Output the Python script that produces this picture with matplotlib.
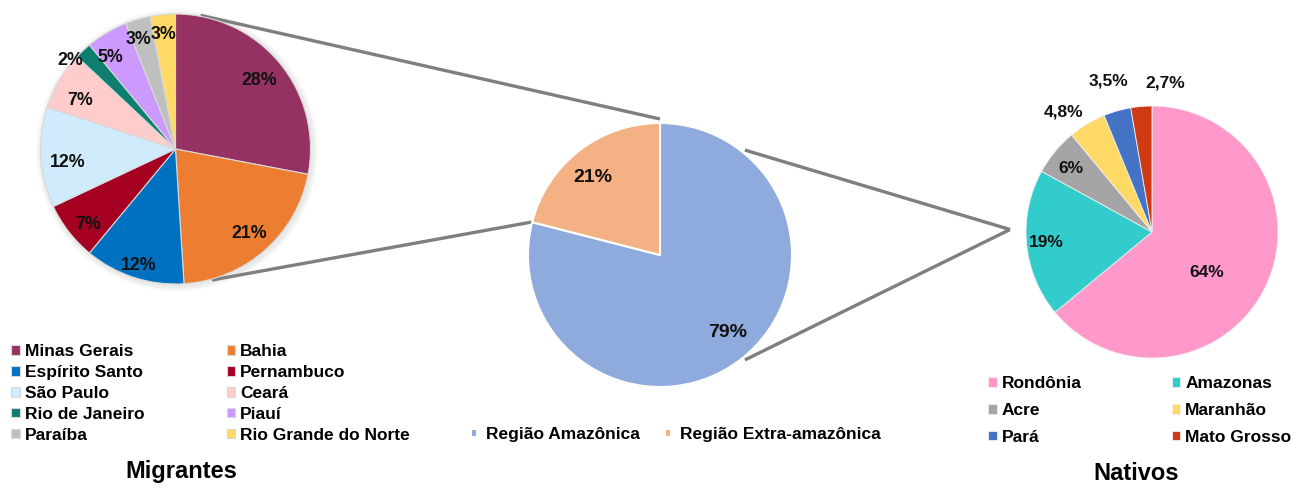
import matplotlib
matplotlib.use("Agg")
import matplotlib.pyplot as plt
from matplotlib.patches import Circle
import numpy as np

plt.rcParams['font.family'] = ['Liberation Sans', 'DejaVu Sans']

W, H = 1298, 488

# Migrantes por estado de origem (%)
migr_states = ["Minas Gerais", "Bahia", "Espírito Santo", "Pernambuco", "São Paulo",
               "Ceará", "Rio de Janeiro", "Piauí", "Paraíba", "Rio Grande do Norte"]
migr_pct = [28, 21, 12, 7, 12, 7, 2, 5, 3, 3]
migr_colors = ["#953163", "#ED7D31", "#0070C0", "#A50021", "#CFEBFC",
               "#FFCCCC", "#0E7E6E", "#CC99FF", "#BFBFBF", "#FFD966"]

# Região de nascimento (%)
region_names = ["Região Amazônica", "Região Extra-amazônica"]
region_pct = [79, 21]
region_colors = ["#8FAADC", "#F4B183"]

# Nativos por estado (%)
nat_states = ["Rondônia", "Amazonas", "Acre", "Maranhão", "Pará", "Mato Grosso"]
nat_pct = [64, 19, 6, 4.8, 3.5, 2.7]
nat_colors = ["#FF99CC", "#33CCCC", "#A5A5A5", "#FFD966", "#4472C4", "#D03A12"]


def fmt(v):
    if float(v).is_integer():
        return f"{int(v)}%"
    return f"{v:.1f}%".replace(".", ",")


def on_circle(center, r, ang):
    # angle measured clockwise from 12 o'clock, in degrees
    a = np.deg2rad(ang)
    return center[0] + r * np.sin(a), center[1] + r * np.cos(a)


fig = plt.figure(figsize=(W / 100, H / 100), dpi=100)
ax = fig.add_axes([0, 0, 1, 1])


def draw_pie(center, radius, values, colors, edge, lw, dists, fs, offsets=None):
    wedges, _ = ax.pie(values, colors=colors, startangle=90, counterclock=False,
                       center=center, radius=radius, frame=True,
                       wedgeprops=dict(edgecolor=edge, linewidth=lw, zorder=2))
    for i, (w, v) in enumerate(zip(wedges, values)):
        ang = np.deg2rad((w.theta1 + w.theta2) / 2)
        d = dists[i] * radius
        dx, dy = offsets[i] if offsets else (0, 0)
        ax.text(center[0] + d * np.cos(ang) + dx, center[1] + d * np.sin(ang) + dy,
                fmt(v), ha="center", va="center", fontsize=fs,
                fontweight="bold", color="#111111", zorder=3)
    return wedges


c_left, r_left = (175.5, 339), 135
c_mid, r_mid = (660, 233), 132
c_right, r_right = (1152, 256), 126

# soft shadow under the left pie
for k in range(1, 7):
    ax.add_patch(Circle((c_left[0] + 1.5, c_left[1] - 1.5), r_left + k,
                        color="#9a9a9a", alpha=0.035, lw=0, zorder=1))

w_migr = draw_pie(c_left, r_left, migr_pct, migr_colors, "#d8d8d8", 0.8,
                  [0.80, 0.83, 0.875, 0.84, 0.80, 0.80, 1.03, 0.85, 0.88, 0.87], 12.8,
                  offsets=[(0, 0), (0, 0), (0, -4), (2, -6), (0, -7), (-2, -6),
                           (-10, -13), (-7, -7), (-4, -5), (-1, -2)])
w_reg = draw_pie(c_mid, r_mid, region_pct, region_colors, "white", 1.5,
                 [0.77, 0.78], 14, offsets=[(5, 3), (-4, -4)])
w_nat = draw_pie(c_right, r_right, nat_pct, nat_colors, "#f0f0f0", 0.6,
                 [0.55, 0.84, 0.83, 1.18, 1.26, 1.19], 12.5,
                 offsets=[(-8, -11), (0, -1), (0, -3), (-12, -7), (0, -2), (26, 0)])

# connectors between the pies
line_kw = dict(color="#7f7f7f", lw=2.4, solid_capstyle="butt", zorder=0)
for a_from, a_to, r_to in [(10.6, 0, 136), (164.4, 284.4, 132.5)]:
    x0, y0 = on_circle(c_left, 136, a_from)
    x1, y1 = on_circle(c_mid, r_to, a_to)
    ax.plot([x0, x1], [y0, y1], **line_kw)
tip = on_circle(c_right, 142, 271)
for a_from in (39, 141):
    x0, y0 = on_circle(c_mid, 135, a_from)
    ax.plot([x0, tip[0]], [y0, tip[1]], **line_kw)

leg_kw = dict(frameon=False, loc="upper left", borderpad=0, borderaxespad=0,
              prop={"weight": "bold", "size": 12.5}, bbox_transform=ax.transData)
big_box = dict(handlelength=0.5, handleheight=0.5, handletextpad=0.28)

# legend entries laid out row by row
order = list(range(0, 10, 2)) + list(range(1, 10, 2))
leg1 = ax.legend([w_migr[i] for i in order], [migr_states[i] for i in order], ncol=2,
                 bbox_to_anchor=(11, H - 344), labelspacing=0.34, columnspacing=4.75,
                 **big_box, **leg_kw)
ax.add_artist(leg1)
leg2 = ax.legend(w_reg, region_names, ncol=2, bbox_to_anchor=(471, H - 427),
                 columnspacing=1.45, handlelength=0.35, handleheight=0.35,
                 handletextpad=0.5, **leg_kw)
ax.add_artist(leg2)
order_n = [0, 2, 4, 1, 3, 5]
ax.legend([w_nat[i] for i in order_n], [nat_states[i] for i in order_n], ncol=2,
          bbox_to_anchor=(988, H - 376), labelspacing=0.68, columnspacing=5.2,
          **big_box, **leg_kw)

ax.text(181, H - 471.5, "Migrantes", ha="center", va="center", fontsize=17, fontweight="bold")
ax.text(1136, H - 474, "Nativos", ha="center", va="center", fontsize=17, fontweight="bold")

ax.set_xlim(0, W)
ax.set_ylim(0, H)
ax.set_aspect("equal")
ax.axis("off")

fig.savefig("out.png", dpi=100, facecolor="white")
